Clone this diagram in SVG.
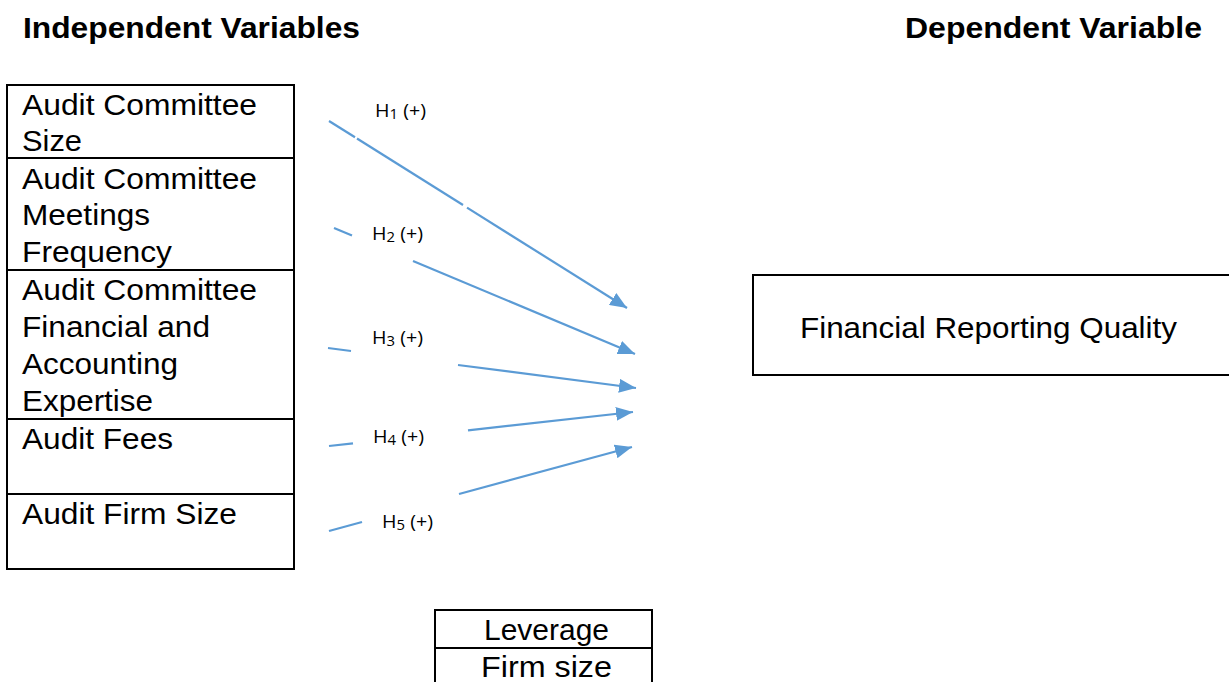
<svg xmlns="http://www.w3.org/2000/svg" width="1229" height="682" viewBox="0 0 1229 682">
<style>
.box{fill:#fff;stroke:#000;stroke-width:2}
.t{font-family:"Liberation Sans",Arial,sans-serif;font-size:29px;fill:#000}
.h{font-family:"Liberation Sans",Arial,sans-serif;font-size:29px;font-weight:bold;fill:#000}
.lbl{font-family:"Open Sans","Liberation Sans",sans-serif;font-size:18.5px;fill:#000}
.sub{font-size:14px}
.c{fill:none;stroke:#5B9BD5;stroke-width:2.2}
</style>
<defs>
<marker id="ah" markerUnits="userSpaceOnUse" markerWidth="18" markerHeight="14" refX="17" refY="7" orient="auto">
<path d="M0,0 L17,7 L0,14 z" fill="#5B9BD5"/>
</marker>
</defs>
<rect width="1229" height="682" fill="#fff"/>
<g id="headings">
<text class="h" x="23" y="38" textLength="337" lengthAdjust="spacingAndGlyphs">Independent Variables</text>
<text class="h" x="905" y="38" textLength="297" lengthAdjust="spacingAndGlyphs">Dependent Variable</text>
</g>
<g id="iv1">
<rect class="box" x="7" y="85" width="287" height="73"/>
<text class="t" x="22" y="115" textLength="235" lengthAdjust="spacingAndGlyphs">Audit Committee</text>
<text class="t" x="22" y="151" textLength="60" lengthAdjust="spacingAndGlyphs">Size</text>
</g>
<g id="iv2">
<rect class="box" x="7" y="158" width="287" height="112"/>
<text class="t" x="22" y="189" textLength="235" lengthAdjust="spacingAndGlyphs">Audit Committee</text>
<text class="t" x="22" y="225" textLength="128" lengthAdjust="spacingAndGlyphs">Meetings</text>
<text class="t" x="22" y="262" textLength="150" lengthAdjust="spacingAndGlyphs">Frequency</text>
</g>
<g id="iv3">
<rect class="box" x="7" y="270" width="287" height="149"/>
<text class="t" x="22" y="300" textLength="235" lengthAdjust="spacingAndGlyphs">Audit Committee</text>
<text class="t" x="22" y="337" textLength="188" lengthAdjust="spacingAndGlyphs">Financial and</text>
<text class="t" x="22" y="374" textLength="156" lengthAdjust="spacingAndGlyphs">Accounting</text>
<text class="t" x="22" y="411" textLength="131" lengthAdjust="spacingAndGlyphs">Expertise</text>
</g>
<g id="iv4">
<rect class="box" x="7" y="419" width="287" height="75"/>
<text class="t" x="22" y="449" textLength="151" lengthAdjust="spacingAndGlyphs">Audit Fees</text>
</g>
<g id="iv5">
<rect class="box" x="7" y="494" width="287" height="75"/>
<text class="t" x="22" y="524" textLength="215" lengthAdjust="spacingAndGlyphs">Audit Firm Size</text>
</g>
<g id="dv">
<rect class="box" x="753" y="275" width="490" height="100"/>
<text class="t" x="800" y="338" textLength="377" lengthAdjust="spacingAndGlyphs">Financial Reporting Quality</text>
</g>
<g id="controls">
<rect class="box" x="435" y="610" width="217" height="38"/>
<rect class="box" x="435" y="648" width="217" height="44"/>
<text class="t" x="484" y="640" textLength="125" lengthAdjust="spacingAndGlyphs">Leverage</text>
<text class="t" x="481" y="677" textLength="131" lengthAdjust="spacingAndGlyphs">Firm size</text>
</g>
<g id="connectors">
<path class="c" d="M329,121 L355,137.3"/>
<path class="c" d="M357,138.5 L463,205"/>
<path class="c" d="M467,207.6 L627,308" marker-end="url(#ah)"/>
<path class="c" d="M334,228 L352,235.5"/>
<path class="c" d="M413,261 L635,354" marker-end="url(#ah)"/>
<path class="c" d="M328,348 L351,351"/>
<path class="c" d="M458,365 L636,388" marker-end="url(#ah)"/>
<path class="c" d="M329,446 L353,443.3"/>
<path class="c" d="M468,430.4 L633,412" marker-end="url(#ah)"/>
<path class="c" d="M329,531 L362,522"/>
<path class="c" d="M459,494 L632,447" marker-end="url(#ah)"/>
</g>
<g id="labels">
<text class="lbl" x="375" y="117" textLength="51" lengthAdjust="spacingAndGlyphs">H<tspan class="sub" dy="2">1</tspan><tspan dy="-2"> (+)</tspan></text>
<text class="lbl" x="372" y="240" textLength="51" lengthAdjust="spacingAndGlyphs">H<tspan class="sub" dy="2">2</tspan><tspan dy="-2"> (+)</tspan></text>
<text class="lbl" x="372" y="344" textLength="51" lengthAdjust="spacingAndGlyphs">H<tspan class="sub" dy="2">3</tspan><tspan dy="-2"> (+)</tspan></text>
<text class="lbl" x="373" y="443" textLength="51" lengthAdjust="spacingAndGlyphs">H<tspan class="sub" dy="2">4</tspan><tspan dy="-2"> (+)</tspan></text>
<text class="lbl" x="382" y="528" textLength="51" lengthAdjust="spacingAndGlyphs">H<tspan class="sub" dy="2">5</tspan><tspan dy="-2"> (+)</tspan></text>
</g>
</svg>
